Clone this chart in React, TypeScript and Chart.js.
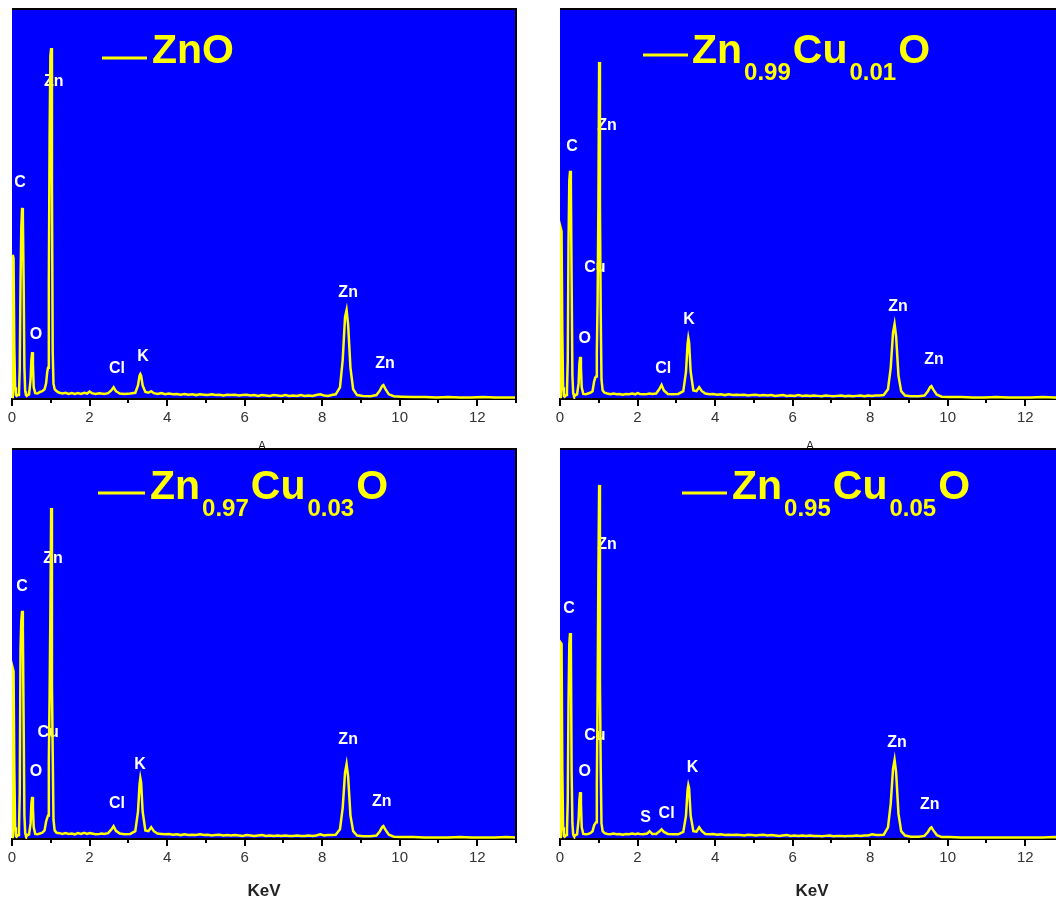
import React, { useEffect, useRef } from "react";
import { Chart, registerables } from "chart.js";

Chart.register(...registerables);

// Shared energy axis (keV) for all four EDS spectra
const energyKeV = [
  0.0, 0.02, 0.04, 0.06, 0.08, 0.1, 0.12, 0.14, 0.16, 0.18,
  0.2, 0.22, 0.24, 0.26, 0.28, 0.3, 0.32, 0.34, 0.36, 0.38,
  0.4, 0.44, 0.48, 0.5, 0.52, 0.54, 0.56, 0.6, 0.66, 0.72,
  0.78, 0.84, 0.88, 0.91, 0.93, 0.95, 0.97, 0.99, 1.01, 1.03,
  1.05, 1.07, 1.1, 1.15, 1.22, 1.3, 1.38, 1.46, 1.54, 1.62,
  1.7, 1.78, 1.86, 1.94, 2.0, 2.06,
  2.15, 2.25, 2.31, 2.38, 2.48, 2.56, 2.62, 2.68, 2.78, 2.9,
  3.05, 3.18, 3.25, 3.29, 3.31, 3.33, 3.37, 3.44, 3.52, 3.59,
  3.66, 3.75, 3.85, 3.95, 4.05, 4.15, 4.25, 4.35, 4.45, 4.55,
  4.65, 4.75, 4.85, 4.95, 5.05, 5.15, 5.25, 5.35, 5.45, 5.55,
  5.65, 5.75, 5.85, 5.95, 6.05, 6.15, 6.25, 6.35, 6.45, 6.55,
  6.65, 6.75, 6.85, 6.95, 7.05, 7.15, 7.25, 7.35, 7.45, 7.55,
  7.65, 7.75, 7.85, 7.95, 8.05, 8.15, 8.25,
  8.35, 8.46, 8.53, 8.59, 8.63, 8.67, 8.73, 8.8, 8.9, 9.05,
  9.25, 9.4, 9.49, 9.55, 9.58, 9.63, 9.72, 9.85, 10.05, 10.35,
  10.65, 10.95, 11.25, 11.55, 11.85, 12.15, 12.45, 12.75, 13.0,
];

// Counts (relative intensity) for each composition
const countsZnO = [
  0.5, 37, 36, 13, 3, 1, 0.8, 1, 1, 1.2,
  8, 30, 44, 49, 47, 30, 8, 2, 1, 0.8,
  1, 1.2, 5, 10, 12, 9, 3, 1.5, 1.4, 1.8,
  2, 2.5, 4, 7, 8, 30, 67, 88, 90, 55,
  12, 4, 2.5, 2, 1.6, 1.4, 1.6, 1.3, 1.5, 1.3,
  1.5, 1.3, 1.6, 1.4, 1.9, 1.5,
  1.3, 1.5, 1.4, 1.3, 1.5, 2.2, 3, 2, 1.4, 1.3,
  1.4, 1.6, 3.5, 6, 6.4, 6, 3.5, 1.8, 1.6, 2,
  1.5, 1.3, 1.5, 1.2, 1.4, 1.2, 1.3, 1.1, 1.3, 1.1,
  1.2, 1.0, 1.2, 1.1, 1.0, 1.2, 1.0, 1.1, 0.9, 1.1,
  1.0, 1.1, 0.9, 1.0, 1.1, 0.9, 1.0, 0.8, 1.0, 0.9,
  0.8, 1.0, 0.9, 0.8, 1.0, 0.8, 0.9, 0.8, 1.0, 0.8,
  0.9, 0.8, 1.0, 1.2, 0.9, 0.8, 1.0,
  1.2, 3, 10, 21, 22.8, 19, 8, 2.5, 1, 0.8,
  0.7, 1.0, 2.2, 3.4, 3.6, 2.6, 1.2, 0.7, 0.6, 0.5,
  0.5, 0.4, 0.5, 0.4, 0.4, 0.5, 0.4, 0.4, 0.4,
];

const countsCu001 = [
  0.5, 43.8, 43, 17, 3, 0.8, 0.6, 0.8, 1, 2,
  10, 40, 56, 58.5, 55, 30, 6, 1.5, 0.8, 0.8,
  1, 1.2, 4, 9, 10.8, 8, 3, 1.3, 1.2, 1.4,
  1.6, 2, 4.5, 5.5, 5.8, 12, 25, 49, 86.4, 50,
  22, 5, 2.2, 1.6, 1.4, 1.2, 1.4, 1.2, 1.3, 1.1,
  1.3, 1.2, 1.4, 1.2, 1.5, 1.3,
  1.2, 1.3, 1.4, 1.3, 1.4, 2.5, 3.6, 2.2, 1.3, 1.2,
  1.3, 2, 7, 14, 15.6, 14.5, 7, 2.2, 2, 3,
  2, 1.4, 1.2, 1.3, 1.1, 1.2, 1.0, 1.2, 1.0, 1.1,
  1.0, 1.1, 0.9, 1.0, 1.1, 0.9, 1.0, 0.9, 1.0, 0.8,
  0.9, 1.0, 0.8, 0.9, 0.8, 1.0, 0.8, 0.9, 0.8, 0.9,
  0.8, 0.7, 0.9, 0.8, 0.7, 0.8, 0.9, 0.7, 0.8, 0.7,
  0.8, 0.9, 0.7, 0.9, 0.8, 0.9, 0.9,
  1.0, 2.5, 8, 17, 19.2, 16, 6, 2, 0.9, 0.7,
  0.7, 0.9, 2, 3.1, 3.3, 2.4, 1.1, 0.6, 0.5, 0.5,
  0.4, 0.4, 0.5, 0.4, 0.4, 0.4, 0.5, 0.4, 0.4,
];

const countsCu003 = [
  0.5, 43.8, 43, 18, 3, 0.8, 0.6, 0.8, 1, 2,
  12, 49, 56, 58.5, 54, 30, 6, 1.5, 0.8, 0.8,
  1, 1.2, 4, 9, 10.8, 8, 3, 1.3, 1.2, 1.4,
  1.6, 2.2, 4.5, 5.5, 6, 20, 36.4, 58, 84.9, 40,
  22, 5, 2.2, 1.6, 1.5, 1.3, 1.5, 1.3, 1.4, 1.2,
  1.5, 1.3, 1.6, 1.3, 1.5, 1.4,
  1.2, 1.3, 1.4, 1.3, 1.5, 2.4, 3.3, 2.1, 1.4, 1.2,
  1.3, 2, 7, 14, 15.6, 14.5, 7, 2.2, 2, 3,
  2, 1.4, 1.3, 1.2, 1.3, 1.1, 1.2, 1.0, 1.2, 1.0,
  1.1, 1.0, 1.2, 1.0, 1.1, 0.9, 1.0, 1.1, 0.9, 1.0,
  0.9, 1.0, 0.9, 0.8, 1.0, 0.9, 0.8, 0.9, 1.0, 0.8,
  0.9, 0.8, 0.9, 0.8, 0.9, 0.8, 0.8, 0.9, 0.8, 0.8,
  0.9, 0.8, 0.9, 1.2, 0.9, 1.0, 1.0,
  1.1, 2.5, 8, 17, 19.2, 16, 6, 2, 0.9, 0.7,
  0.7, 0.9, 2, 3.1, 3.3, 2.4, 1.1, 0.6, 0.5, 0.5,
  0.4, 0.4, 0.4, 0.5, 0.4, 0.4, 0.4, 0.5, 0.4,
];

const countsCu005 = [
  0.5, 50.3, 50, 17.7, 3, 0.8, 0.6, 0.8, 1, 2,
  10, 35, 50, 52.8, 50, 17, 4, 1.2, 0.8, 0.8,
  1, 1.2, 5, 10, 12, 9, 3, 1.3, 1.2, 1.3,
  1.5, 2, 3.5, 4, 4.3, 14, 36.4, 68, 90.8, 40,
  18.2, 4, 2, 1.5, 1.3, 1.2, 1.4, 1.2, 1.3, 1.1,
  1.3, 1.2, 1.4, 1.2, 1.4, 1.3,
  1.2, 1.4, 2, 1.3, 1.3, 1.9, 2.5, 1.8, 1.3, 1.2,
  1.2, 1.8, 6, 12.5, 13.8, 13, 6, 2, 1.9, 3,
  2, 1.3, 1.2, 1.3, 1.1, 1.2, 1.0, 1.1, 1.0, 1.1,
  1.0, 0.9, 1.1, 1.0, 0.9, 1.0, 1.1, 0.9, 1.0, 0.9,
  0.8, 0.9, 1.0, 0.8, 0.9, 0.8, 0.9, 0.8, 0.9, 0.8,
  0.8, 0.7, 0.8, 0.9, 0.7, 0.8, 0.8, 0.7, 0.8, 0.8,
  0.9, 0.8, 0.9, 0.9, 1.2, 1.0, 1.0,
  1.1, 3, 9, 18, 20.3, 17, 6.5, 2, 0.9, 0.6,
  0.6, 0.8, 1.8, 2.8, 3, 2.2, 1, 0.5, 0.5, 0.4,
  0.4, 0.4, 0.4, 0.4, 0.4, 0.4, 0.4, 0.5, 0.4,
];

// Element labels placed at (keV, intensity)
const peaksZnO = [
  { text: "Zn", x: 1.08, y: 81.3 },
  { text: "C", x: 0.21, y: 55.4 },
  { text: "O", x: 0.62, y: 16.4 },
  { text: "Cl", x: 2.71, y: 7.9 },
  { text: "K", x: 3.38, y: 10.8 },
  { text: "Zn", x: 8.67, y: 27.4 },
  { text: "Zn", x: 9.62, y: 9.0 },
];
const peaksCu001 = [
  { text: "C", x: 0.31, y: 64.6 },
  { text: "Zn", x: 1.21, y: 70 },
  { text: "Cu", x: 0.9, y: 33.8 },
  { text: "O", x: 0.64, y: 15.6 },
  { text: "Cl", x: 2.66, y: 7.9 },
  { text: "K", x: 3.33, y: 20.3 },
  { text: "Zn", x: 8.72, y: 23.8 },
  { text: "Zn", x: 9.65, y: 10 },
];
const peaksCu003 = [
  { text: "C", x: 0.26, y: 64.6 },
  { text: "Zn", x: 1.06, y: 71.8 },
  { text: "Cu", x: 0.93, y: 27.4 },
  { text: "O", x: 0.62, y: 17.2 },
  { text: "Cl", x: 2.71, y: 9 },
  { text: "K", x: 3.3, y: 19 },
  { text: "Zn", x: 8.67, y: 25.4 },
  { text: "Zn", x: 9.54, y: 9.7 },
];
const peaksCu005 = [
  { text: "C", x: 0.23, y: 59 },
  { text: "Zn", x: 1.21, y: 75.6 },
  { text: "Cu", x: 0.9, y: 26.4 },
  { text: "O", x: 0.64, y: 17.2 },
  { text: "S", x: 2.21, y: 5.4 },
  { text: "Cl", x: 2.75, y: 6.4 },
  { text: "K", x: 3.42, y: 18.2 },
  { text: "Zn", x: 8.69, y: 24.6 },
  { text: "Zn", x: 9.54, y: 8.7 },
];

// Sample names; "sub" parts are written as subscripts
type TitlePart = { text: string; sub?: boolean };
const titleZnO: TitlePart[] = [{ text: "ZnO" }];
const titleCu001: TitlePart[] = [
  { text: "Zn" }, { text: "0.99", sub: true }, { text: "Cu" }, { text: "0.01", sub: true }, { text: "O" },
];
const titleCu003: TitlePart[] = [
  { text: "Zn" }, { text: "0.97", sub: true }, { text: "Cu" }, { text: "0.03", sub: true }, { text: "O" },
];
const titleCu005: TitlePart[] = [
  { text: "Zn" }, { text: "0.95", sub: true }, { text: "Cu" }, { text: "0.05", sub: true }, { text: "O" },
];

const X_MIN = 0;
const X_MAX = 13;
const Y_MAX = 100;
const X_AXIS_TITLE = "KeV";

const FONT = "'Liberation Sans', Arial, sans-serif";
const BLUE = "#0000FF";
const YELLOW = "#FFFF00";

type Peak = { text: string; x: number; y: number };
type PanelDef = {
  id: string;
  counts: number[];
  peaks: Peak[];
  title: TitlePart[];
  left: number;
  top: number;
  height: number;
  bottomPad: number;
  axisTitle: boolean;
  // legend placement relative to the plot area's top-left corner
  legend: { x1: number; x2: number; ly: number; tx: number; base: number };
};

const CANVAS_W = 528;

const PANELS: PanelDef[] = [
  {
    id: "zno", counts: countsZnO, peaks: peaksZnO, title: titleZnO,
    left: 0, top: 0, height: 440, bottomPad: 11, axisTitle: false,
    legend: { x1: 90, x2: 135, ly: 49, tx: 140, base: 54 },
  },
  {
    id: "cu001", counts: countsCu001, peaks: peaksCu001, title: titleCu001,
    left: 548, top: 0, height: 440, bottomPad: 11, axisTitle: false,
    legend: { x1: 83, x2: 128, ly: 46, tx: 132, base: 54 },
  },
  {
    id: "cu003", counts: countsCu003, peaks: peaksCu003, title: titleCu003,
    left: 0, top: 440, height: 460, bottomPad: 31, axisTitle: true,
    legend: { x1: 86, x2: 133, ly: 44, tx: 138, base: 50 },
  },
  {
    id: "cu005", counts: countsCu005, peaks: peaksCu005, title: titleCu005,
    left: 548, top: 440, height: 460, bottomPad: 31, axisTitle: true,
    legend: { x1: 122, x2: 167, ly: 44, tx: 172, base: 50 },
  },
];

function makeDecor(panel: PanelDef) {
  return {
    id: "panelDecor",
    beforeDraw(chart: any) {
      const { ctx, chartArea: a } = chart;
      ctx.save();
      if (panel.axisTitle) {
        ctx.fillStyle = "#111";
        ctx.font = `12px ${FONT}`;
        ctx.textAlign = "center";
        ctx.textBaseline = "top";
        ctx.fillText("A", (a.left + a.right) / 2 - 2, a.top - 8);
      }
      ctx.fillStyle = BLUE;
      ctx.fillRect(a.left, a.top, a.right - a.left, a.bottom - a.top);
      ctx.restore();
    },
    beforeDatasetsDraw(chart: any) {
      const { ctx, scales } = chart;
      ctx.save();
      ctx.fillStyle = "#FFFFFF";
      ctx.font = `bold 16px ${FONT}`;
      ctx.textAlign = "center";
      ctx.textBaseline = "middle";
      for (const p of panel.peaks) {
        ctx.fillText(p.text, scales.x.getPixelForValue(p.x), scales.y.getPixelForValue(p.y));
      }
      ctx.restore();
    },
    afterDraw(chart: any) {
      const { ctx, chartArea: a, scales } = chart;
      ctx.save();
      // frame: top and right edges
      ctx.strokeStyle = "#000";
      ctx.lineWidth = 2;
      ctx.beginPath();
      ctx.moveTo(a.left, a.top);
      ctx.lineTo(a.right, a.top);
      ctx.lineTo(a.right, a.bottom);
      ctx.stroke();
      // minor ticks at odd keV
      ctx.beginPath();
      for (let v = 1; v <= X_MAX; v += 2) {
        const px = Math.round(scales.x.getPixelForValue(v));
        ctx.moveTo(px, a.bottom);
        ctx.lineTo(px, a.bottom + 4);
      }
      ctx.stroke();

      // legend line and sample name
      const L = panel.legend;
      ctx.strokeStyle = YELLOW;
      ctx.lineWidth = 3;
      ctx.beginPath();
      ctx.moveTo(a.left + L.x1, a.top + L.ly);
      ctx.lineTo(a.left + L.x2, a.top + L.ly);
      ctx.stroke();
      ctx.fillStyle = YELLOW;
      ctx.textAlign = "left";
      ctx.textBaseline = "alphabetic";
      let x = a.left + L.tx;
      for (const part of panel.title) {
        ctx.font = part.sub ? `bold 24px ${FONT}` : `bold 41px ${FONT}`;
        const y = a.top + L.base + (part.sub ? 17 : 0);
        ctx.fillText(part.text, x, y);
        x += ctx.measureText(part.text).width + 2;
      }

      if (panel.axisTitle) {
        ctx.fillStyle = "#222";
        ctx.font = `bold 17px ${FONT}`;
        ctx.textAlign = "center";
        ctx.textBaseline = "middle";
        ctx.fillText(X_AXIS_TITLE, (a.left + a.right) / 2, a.bottom + 52);
      }
      ctx.restore();
    },
  };
}

function SpectrumPanel({ panel }: { panel: PanelDef }) {
  const ref = useRef<HTMLCanvasElement>(null);

  useEffect(() => {
    const canvas = ref.current;
    if (!canvas) return;
    const points = energyKeV.map((e, i) => ({ x: e, y: panel.counts[i] }));
    const chart = new Chart(canvas, {
      type: "line",
      data: {
        datasets: [
          {
            data: points,
            borderColor: YELLOW,
            borderWidth: 2.5,
            pointRadius: 0,
            tension: 0,
            fill: false,
          },
        ],
      },
      options: {
        animation: false,
        responsive: false,
        maintainAspectRatio: false,
        events: [],
        layout: { padding: { left: 12, top: 9, right: 12, bottom: panel.bottomPad } },
        plugins: { legend: { display: false }, tooltip: { enabled: false } },
        scales: {
          x: {
            type: "linear",
            min: X_MIN,
            max: X_MAX,
            border: { display: true, color: "#000", width: 2 },
            grid: {
              display: true,
              drawOnChartArea: false,
              drawTicks: true,
              tickLength: 7,
              color: "#000",
              lineWidth: 2,
            },
            ticks: {
              stepSize: 2,
              includeBounds: false,
              autoSkip: false,
              maxRotation: 0,
              padding: 3,
              color: "#333",
              font: { family: FONT, size: 15 },
            },
            afterFit: (scale: any) => {
              scale.height = 30;
            },
          },
          y: { display: false, min: 0, max: Y_MAX },
        },
      },
      plugins: [makeDecor(panel)],
    } as any);
    return () => chart.destroy();
  }, [panel]);

  return (
    <canvas
      ref={ref}
      width={CANVAS_W}
      height={panel.height}
      style={{
        position: "absolute",
        left: panel.left,
        top: panel.top,
        width: CANVAS_W,
        height: panel.height,
      }}
    />
  );
}

export default function App() {
  return (
    <div
      style={{
        position: "fixed",
        left: 0,
        top: 0,
        width: 1056,
        height: 900,
        overflow: "hidden",
        background: "#fff",
      }}
    >
      {PANELS.map((p) => (
        <SpectrumPanel key={p.id} panel={p} />
      ))}
    </div>
  );
}
